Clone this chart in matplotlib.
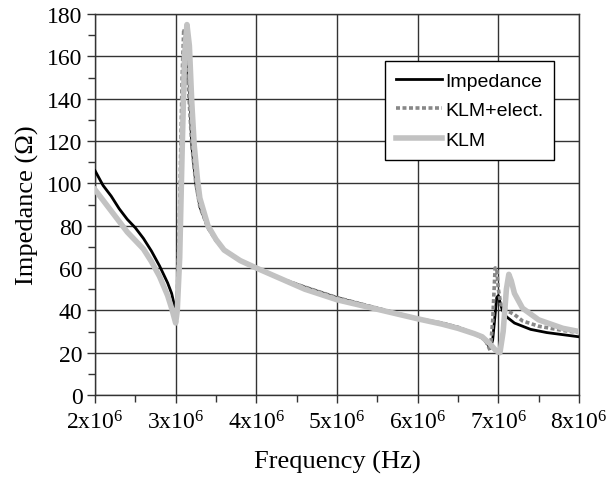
import numpy as np
import matplotlib
matplotlib.use("Agg")
import matplotlib.pyplot as plt
from matplotlib.ticker import MultipleLocator, FuncFormatter

plt.rcParams['font.family'] = ['Liberation Serif', 'DejaVu Serif']
plt.rcParams['mathtext.fontset'] = 'custom'
plt.rcParams['mathtext.rm'] = 'Liberation Serif'
plt.rcParams['mathtext.it'] = 'Liberation Serif:italic'

# measured impedance (black)
f_imp = [2.0, 2.1, 2.2, 2.3, 2.4, 2.5, 2.6, 2.7, 2.8, 2.9, 2.95, 2.98, 3.0, 3.02,
         3.05, 3.08, 3.1, 3.13, 3.15, 3.17, 3.2, 3.25, 3.3, 3.4, 3.5, 3.6, 3.8,
         4.0, 4.3, 4.6, 5.0, 5.5, 6.0, 6.3, 6.5, 6.7, 6.8, 6.85, 6.9, 6.93, 6.96,
         6.98, 7.0, 7.02, 7.05, 7.1, 7.2, 7.4, 7.6, 7.8, 8.0]
z_imp = [106, 99, 94, 88, 83, 79, 74, 68, 61, 53, 48, 43, 38, 48,
         70, 110, 140, 155, 159, 145, 118, 100, 89, 79, 73, 68.5, 63.5,
         60, 55, 51, 46, 41, 36, 34, 32, 29, 27, 25, 22, 26, 38,
         46, 47, 44, 40, 37, 34, 31, 29.5, 28.5, 27.5]

# KLM + electrical (dashed grey)
f_klme = [2.0, 2.1, 2.2, 2.3, 2.4, 2.5, 2.6, 2.7, 2.8, 2.9, 2.95, 2.98, 3.0, 3.02,
          3.05, 3.08, 3.1, 3.12, 3.15, 3.2, 3.25, 3.3, 3.4, 3.5, 3.6, 3.8, 4.0,
          4.3, 4.6, 5.0, 5.5, 6.0, 6.3, 6.5, 6.7, 6.8, 6.85, 6.9, 6.93, 6.96,
          6.98, 7.0, 7.03, 7.1, 7.2, 7.3, 7.5, 7.8, 8.0]
z_klme = [97, 92, 87, 82, 77, 73, 69, 63, 56, 47, 41, 37, 35, 45,
          90, 150, 173, 170, 150, 118, 100, 89, 79, 73, 68.5, 63.5, 60,
          55, 51, 46, 41, 36, 34, 32, 29, 27, 25, 21, 35, 60,
          60, 50, 43, 40, 38, 35, 32.5, 30.5, 29.5]

# KLM (light grey)
f_klm = [2.0, 2.1, 2.2, 2.3, 2.4, 2.5, 2.6, 2.7, 2.8, 2.9, 2.95, 3.0, 3.02, 3.05,
         3.08, 3.11, 3.14, 3.17, 3.2, 3.23, 3.27, 3.3, 3.4, 3.5, 3.6, 3.8, 4.0,
         4.3, 4.6, 5.0, 5.5, 6.0, 6.3, 6.5, 6.7, 6.8, 6.9, 6.97, 7.02, 7.06,
         7.1, 7.13, 7.16, 7.2, 7.3, 7.5, 7.8, 8.0]
z_klm = [97, 92, 87, 82, 77, 73, 69, 63, 56, 47, 41, 34, 40, 65,
         115, 160, 175, 165, 138, 118, 102, 93, 80, 73.5, 68.5, 63.5, 60,
         55, 50, 45, 40.5, 36, 33.5, 31.5, 29, 27.5, 24, 21, 20, 30,
         50, 57, 54, 48, 41, 35.5, 31.5, 30]

fig = plt.figure(figsize=(6.12, 4.85), dpi=100)
ax = fig.add_axes([95 / 612, 1 - 396 / 485, 484 / 612, 381 / 485])

ax.plot(np.array(f_imp) * 1e6, z_imp, color='black', lw=2.0, label='Impedance', zorder=3)
ax.plot(np.array(f_klme) * 1e6, z_klme, color='#888888', lw=2.6, ls=(0, (1.1, 0.7)),
        label='KLM+elect.', zorder=4)
ax.plot(np.array(f_klm) * 1e6, z_klm, color='#c2c2c2', lw=4.0, label='KLM', zorder=5)

ax.set_xlim(2e6, 8e6)
ax.set_ylim(0, 180)
ax.xaxis.set_major_locator(MultipleLocator(1e6))
ax.xaxis.set_minor_locator(MultipleLocator(0.5e6))
ax.yaxis.set_major_locator(MultipleLocator(20))
ax.yaxis.set_minor_locator(MultipleLocator(10))
ax.xaxis.set_major_formatter(FuncFormatter(lambda v, p: '%dx10$^{6}$' % round(v / 1e6)))
ax.tick_params(which='major', direction='out', length=6, width=1, labelsize=17, color='#333333')
ax.tick_params(which='minor', direction='out', length=5, width=1, color='#333333')
ax.tick_params(axis='x', pad=5)
ax.tick_params(axis='y', pad=3)
ax.grid(True, which='major', color='#333333', lw=1)
for s in ax.spines.values():
    s.set_color('#333333')
    s.set_linewidth(1)

ax.set_xlabel('Frequency (Hz)', fontsize=19, labelpad=12)
ax.set_ylabel('Impedance (Ω)', fontsize=19, labelpad=6)

leg = ax.legend(loc='upper left', bbox_to_anchor=(0.599, 0.876), frameon=True,
                fancybox=False, edgecolor='black', framealpha=1,
                prop={'family': 'Liberation Sans', 'size': 14},
                handlelength=2.4, handletextpad=0.15, labelspacing=0.62,
                borderpad=0.55, borderaxespad=0)
leg.get_frame().set_linewidth(1)
leg.set_zorder(10)

fig.savefig('out.png', dpi=100)
